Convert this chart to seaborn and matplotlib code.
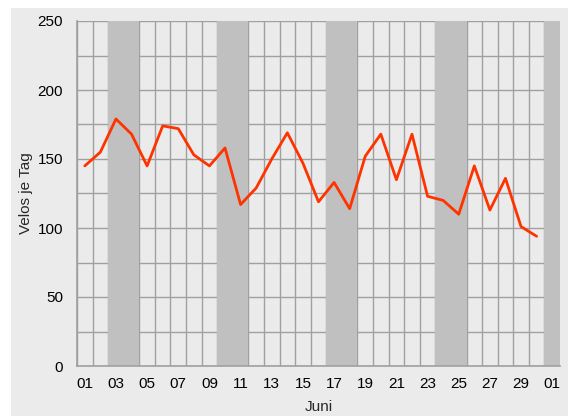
import seaborn as sns
import pandas as pd
import numpy as np
import matplotlib.pyplot as plt
from matplotlib.patches import Rectangle

sns.set_theme(style="white")
plt.rcParams['font.family'] = ['Liberation Sans', 'DejaVu Sans']

# Velos per day, June
days = list(range(1, 31))
velos = [145, 155, 179, 168, 145, 174, 172, 153, 145, 158,
         117, 129, 150, 169, 147, 119, 133, 114, 152, 168,
         135, 168, 123, 120, 110, 145, 113, 136, 101, 94]
# weekends (Saturday start days)
weekends = [3, 10, 17, 24, 31]
tick_days = list(range(1, 32, 2))
tick_labels = ["%02d" % (d if d <= 30 else d - 30) for d in tick_days]

df = pd.DataFrame({"Tag": days, "Velos": velos})

fig = plt.figure(figsize=(5.68, 4.16), dpi=100, facecolor="white")
fig.patches.append(Rectangle((11 / 568, 0), 1, 408 / 416, transform=fig.transFigure,
                             facecolor="#ebebeb", edgecolor="none", zorder=-10))
ax = fig.add_axes([77 / 568, 50 / 416, 483 / 568, 345 / 416])
ax.set_facecolor("#ebebeb")

for d in weekends:
    ax.axvspan(d - 0.5, d + 1.5, color="#c0c0c0", lw=0, zorder=1)

sns.lineplot(data=df, x="Tag", y="Velos", color="#ff3300", linewidth=2.0, ax=ax, zorder=3)

ax.set_xlim(0.5, 31.5)
ax.set_ylim(0, 250)
ax.set_xticks(tick_days)
ax.set_xticklabels(tick_labels)
ax.set_xticks(np.arange(0.5, 32, 1), minor=True)
ax.set_yticks(range(0, 251, 50))
ax.set_yticks(range(25, 250, 50), minor=True)
ax.set_axisbelow(True)
ax.grid(axis="x", which="minor", color="#a0a0a0", linewidth=1.0)
ax.grid(axis="y", which="both", color="#a0a0a0", linewidth=1.0)
ax.tick_params(which="both", length=0, labelsize=11, colors="black")
ax.tick_params(axis="y", pad=10)
ax.tick_params(axis="x", pad=8)
for s in ["top", "right"]:
    ax.spines[s].set_visible(False)
for s in ["left", "bottom"]:
    ax.spines[s].set_color("#a0a0a0")
    ax.spines[s].set_linewidth(1.2)

ax.set_xlabel("Juni", fontsize=11, labelpad=6.5)
ax.set_ylabel("Velos je Tag", fontsize=11, labelpad=3)

plt.savefig("out.png", dpi=100)
